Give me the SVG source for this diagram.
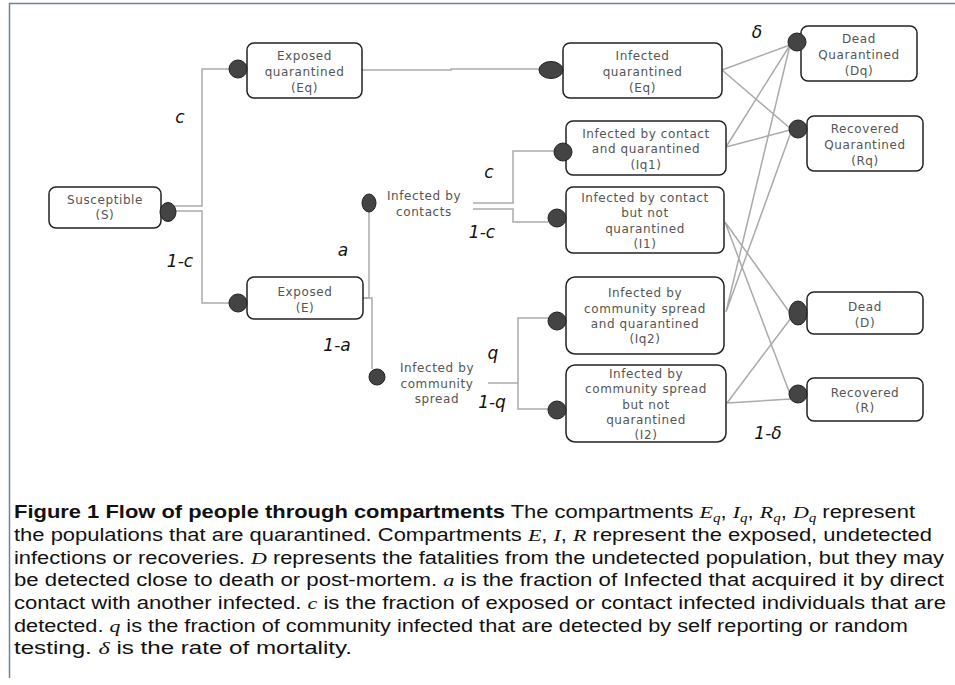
<svg xmlns="http://www.w3.org/2000/svg" width="955" height="685" viewBox="0 0 955 685">
<style>
.box{fill:#fff;stroke:#222;stroke-width:1.5}
.dot{fill:#444;stroke:#222;stroke-width:1}
.t{font-family:"DejaVu Sans","Open Sans",sans-serif;font-size:12px;letter-spacing:0.6px;fill:#555;text-anchor:middle}
.lbl{font-family:"DejaVu Sans","Open Sans",sans-serif;font-size:17px;font-style:italic;fill:#111;text-anchor:middle}
.c{fill:none;stroke:#aaa;stroke-width:1.5}
.cap{font-family:"Liberation Sans","DejaVu Sans",sans-serif;font-size:17.5px;fill:#111}
.m{font-family:"Liberation Serif","DejaVu Serif",serif;font-style:italic}
</style>
<rect width="955" height="685" fill="#fff"/>
<path d="M9.5,678 V3.5 H955" fill="none" stroke="#6d82a0" stroke-width="1.5"/>
<g id="connectors">
<path class="c" d="M175,206 H202 V69 H229"/>
<path class="c" d="M175,211 H202 V303 H229"/>
<path class="c" d="M362,70 H451 V69 H539"/>
<path class="c" d="M363,298 H369 V212"/>
<path class="c" d="M363,298 H372 V369"/>
<path class="c" d="M473,203 H513 V151 H554"/>
<path class="c" d="M473,209 H513 V222 H548"/>
<path class="c" d="M488,383 H518 V318 H548"/>
<path class="c" d="M518,383 V409 H548"/>
<path class="c" d="M722,70 L790,45 M722,70 L791,129"/>
<path class="c" d="M726,147 L790,45 M726,147 L790,130"/>
<path class="c" d="M725,222 L790,313 M725,222 L790,394"/>
<path class="c" d="M726,312 L790,45 M726,312 L791,132"/>
<path class="c" d="M727,403 L791,318 M727,403 L791,399"/>
</g>
<g id="S"><rect class="box" x="49" y="187" width="112" height="41" rx="7"/><text class="t" x="105" y="204">Susceptible</text><text class="t" x="105" y="219">(S)</text><ellipse class="dot" cx="168" cy="212" rx="8" ry="9.5"/></g>
<g id="Eq"><rect class="box" x="247" y="43" width="115" height="55" rx="7"/><text class="t" x="304.5" y="60">Exposed</text><text class="t" x="304.5" y="76">quarantined</text><text class="t" x="304.5" y="92">(Eq)</text><circle class="dot" cx="238" cy="69" r="9"/></g>
<g id="E"><rect class="box" x="247" y="277" width="116" height="42" rx="7"/><text class="t" x="305" y="296">Exposed</text><text class="t" x="305" y="312">(E)</text><circle class="dot" cx="238" cy="303" r="9"/></g>
<g id="contacts"><ellipse class="dot" cx="369" cy="203" rx="7" ry="9"/><text class="t" x="424" y="200">Infected by</text><text class="t" x="424" y="216">contacts</text></g>
<g id="community"><circle class="dot" cx="377" cy="377" r="8"/><text class="t" x="437" y="372">Infected by</text><text class="t" x="437" y="388">community</text><text class="t" x="437" y="403">spread</text></g>
<g id="Iq"><rect class="box" x="563" y="43" width="159" height="55" rx="7"/><text class="t" x="642.5" y="60">Infected</text><text class="t" x="642.5" y="76">quarantined</text><text class="t" x="642.5" y="92">(Eq)</text><ellipse class="dot" cx="551" cy="70" rx="12" ry="8.5"/></g>
<g id="Iq1"><rect class="box" x="566" y="121" width="160" height="54" rx="7"/><text class="t" x="646" y="138">Infected by contact</text><text class="t" x="646" y="153">and quarantined</text><text class="t" x="646" y="169">(Iq1)</text><circle class="dot" cx="563" cy="152" r="9"/></g>
<g id="I1"><rect class="box" x="566" y="187" width="158" height="66" rx="7"/><text class="t" x="645" y="202">Infected by contact</text><text class="t" x="645" y="217">but not</text><text class="t" x="645" y="233">quarantined</text><text class="t" x="645" y="248">(I1)</text><circle class="dot" cx="557" cy="218" r="9"/></g>
<g id="Iq2"><rect class="box" x="566" y="277" width="158" height="77" rx="9"/><text class="t" x="645" y="297">Infected by</text><text class="t" x="645" y="313">community spread</text><text class="t" x="645" y="328">and  quarantined</text><text class="t" x="645" y="343">(Iq2)</text><circle class="dot" cx="557" cy="321" r="9"/></g>
<g id="I2"><rect class="box" x="566" y="365" width="160" height="77" rx="9"/><text class="t" x="646" y="378">Infected by</text><text class="t" x="646" y="393">community spread</text><text class="t" x="646" y="409">but not</text><text class="t" x="646" y="424">quarantined</text><text class="t" x="646" y="439">(I2)</text><circle class="dot" cx="557" cy="410" r="9"/></g>
<g id="Dq"><rect class="box" x="801" y="26" width="116" height="55" rx="7"/><text class="t" x="859" y="43">Dead</text><text class="t" x="859" y="59">Quarantined</text><text class="t" x="859" y="75">(Dq)</text><circle class="dot" cx="797" cy="42" r="9"/></g>
<g id="Rq"><rect class="box" x="807" y="116" width="116" height="55" rx="7"/><text class="t" x="865" y="133">Recovered</text><text class="t" x="865" y="149">Quarantined</text><text class="t" x="865" y="165">(Rq)</text><circle class="dot" cx="798" cy="129" r="9"/></g>
<g id="D"><rect class="box" x="807" y="292" width="116" height="42" rx="7"/><text class="t" x="865" y="311">Dead</text><text class="t" x="865" y="327">(D)</text><ellipse class="dot" cx="798" cy="313" rx="9" ry="12"/></g>
<g id="R"><rect class="box" x="807" y="378" width="116" height="43" rx="7"/><text class="t" x="865" y="397">Recovered</text><text class="t" x="865" y="412">(R)</text><circle class="dot" cx="798" cy="394" r="9"/></g>
<g id="labels">
<text class="lbl" x="180" y="123">c</text>
<text class="lbl" x="180" y="267">1-c</text>
<text class="lbl" x="343" y="256">a</text>
<text class="lbl" x="337" y="351">1-a</text>
<text class="lbl" x="489" y="178">c</text>
<text class="lbl" x="482" y="238">1-c</text>
<text class="lbl" x="493" y="359">q</text>
<text class="lbl" x="492" y="408">1-q</text>
<text class="lbl" x="757" y="38">δ</text>
<text class="lbl" x="768" y="439">1-δ</text>
</g>
<g id="caption" class="cap">
<text x="14" y="518" textLength="901" lengthAdjust="spacingAndGlyphs"><tspan font-weight="bold">Figure 1 Flow of people through compartments</tspan> The compartments <tspan class="m">E</tspan><tspan class="m" font-size="12" dy="4">q</tspan><tspan dy="-4">, </tspan><tspan class="m">I</tspan><tspan class="m" font-size="12" dy="4">q</tspan><tspan dy="-4">, </tspan><tspan class="m">R</tspan><tspan class="m" font-size="12" dy="4">q</tspan><tspan dy="-4">, </tspan><tspan class="m">D</tspan><tspan class="m" font-size="12" dy="4">q</tspan><tspan dy="-4"> represent</tspan></text>
<text x="14" y="541" textLength="918" lengthAdjust="spacingAndGlyphs">the populations that are quarantined. Compartments <tspan class="m">E</tspan>, <tspan class="m">I</tspan>, <tspan class="m">R</tspan> represent the exposed, undetected</text>
<text x="14" y="564" textLength="930" lengthAdjust="spacingAndGlyphs">infections or recoveries. <tspan class="m">D</tspan> represents the fatalities from the undetected population, but they may</text>
<text x="14" y="586" textLength="930" lengthAdjust="spacingAndGlyphs">be detected close to death or post-mortem. <tspan class="m">a</tspan> is the fraction of Infected that acquired it by direct</text>
<text x="14" y="609" textLength="932" lengthAdjust="spacingAndGlyphs">contact with another infected. <tspan class="m">c</tspan> is the fraction of exposed or contact infected individuals that are</text>
<text x="14" y="632" textLength="894" lengthAdjust="spacingAndGlyphs">detected. <tspan class="m">q</tspan> is the fraction of community infected that are detected by self reporting or random</text>
<text x="14" y="654" textLength="338" lengthAdjust="spacingAndGlyphs">testing. <tspan class="m">δ</tspan> is the rate of mortality.</text>
</g>
</svg>
